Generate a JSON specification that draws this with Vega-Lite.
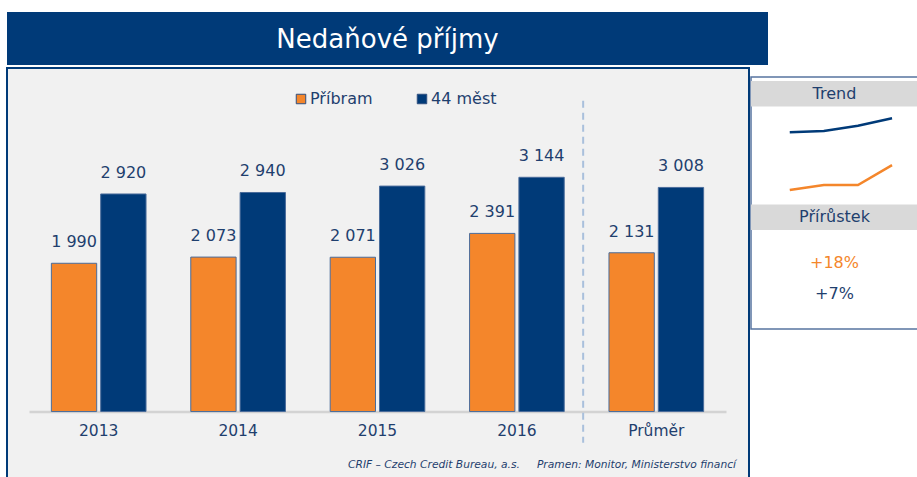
{
  "$schema": "https://vega.github.io/schema/vega-lite/v6.json",
  "background": "white",
  "padding": {"left": 6, "top": 12, "right": 0, "bottom": 0},
  "config": {
    "locale": {"number": {"decimal": ",", "thousands": " ", "grouping": [3], "currency": ["", " Kč"]}},
    "view": {"stroke": null},
    "font": "DejaVu Sans"
  },
  "datasets": {
    "income": [
      {"period": "2013", "series": "Příbram", "value": 1990},
      {"period": "2013", "series": "44 měst", "value": 2920},
      {"period": "2014", "series": "Příbram", "value": 2073},
      {"period": "2014", "series": "44 měst", "value": 2940},
      {"period": "2015", "series": "Příbram", "value": 2071},
      {"period": "2015", "series": "44 měst", "value": 3026},
      {"period": "2016", "series": "Příbram", "value": 2391},
      {"period": "2016", "series": "44 měst", "value": 3144},
      {"period": "Průměr", "series": "Příbram", "value": 2131},
      {"period": "Průměr", "series": "44 měst", "value": 3008}
    ],
    "growth": [
      {"series": "Příbram", "growth": 0.18},
      {"series": "44 měst", "growth": 0.07}
    ],
    "sections": [
      {"section": "Trend"},
      {"section": "Přírůstek"}
    ],
    "heading": [
      {"title": "Nedaňové příjmy"}
    ]
  },
  "spacing": 0,
  "vconcat": [
    {
      "width": 761,
      "height": 53,
      "view": {"fill": "#003A78", "stroke": null},
      "data": {"name": "heading"},
      "mark": {"type": "text", "fontSize": 26, "color": "white", "font": "DejaVu Sans", "dy": 1},
      "encoding": {"text": {"field": "title"}}
    },
    {
      "spacing": 0,
      "hconcat": [
        {
          "width": 742,
          "height": 412,
          "view": {"fill": "#F1F1F1", "stroke": "#003A78", "strokeWidth": 2},
          "title": {
            "text": "CRIF – Czech Credit Bureau, a.s.\u00a0\u00a0\u00a0\u00a0\u00a0Pramen: Monitor, Ministerstvo financí",
            "orient": "bottom",
            "anchor": "end",
            "frame": "group",
            "offset": -20,
            "dx": -13,
            "font": "DejaVu Sans",
            "fontStyle": "italic",
            "fontWeight": "normal",
            "fontSize": 10.7,
            "color": "#1F3F6E"
          },
          "data": {"name": "income"},
          "layer": [
            {
              "mark": {"type": "bar", "stroke": "#4A6C9B", "strokeWidth": 1},
              "encoding": {
                "x": {
                  "field": "period", "type": "nominal", "sort": null,
                  "scale": {"range": [22, 719], "paddingInner": 0.321, "paddingOuter": 0.1605},
                  "axis": {
                    "title": null, "orient": "bottom", "offset": -68.5, "ticks": false,
                    "domainColor": "#D3D3D3", "domainWidth": 2.5,
                    "labelFontSize": 15.5, "labelColor": "#1F3F6E", "labelPadding": 12,
                    "labelFont": "DejaVu Sans", "labelAngle": 0, "grid": false
                  }
                },
                "xOffset": {"field": "series", "type": "nominal", "sort": ["Příbram", "44 měst"], "scale": {"paddingInner": 0.081, "paddingOuter": 0}},
                "y": {"field": "value", "type": "quantitative", "scale": {"domain": [-919, 4611], "nice": false, "zero": false}, "axis": null},
                "color": {
                  "field": "series", "type": "nominal",
                  "scale": {"domain": ["Příbram", "44 měst"], "range": ["#F4862B", "#003A78"]},
                  "legend": {
                    "orient": "none", "legendX": 286, "legendY": 79, "direction": "horizontal",
                    "title": null, "symbolType": "square", "symbolSize": 90,
                    "symbolStrokeColor": "#2F4F7F", "symbolStrokeWidth": 1,
                    "labelFontSize": 16, "labelColor": "#1F3F6E", "labelFont": "DejaVu Sans",
                    "labelOffset": 1, "columnPadding": 41, "padding": 0
                  }
                }
              }
            },
            {
              "mark": {"type": "text", "dy": -21, "fontSize": 16, "color": "#1F3F6E", "font": "DejaVu Sans"},
              "encoding": {
                "x": {"field": "period", "type": "nominal", "sort": null},
                "xOffset": {"field": "series", "type": "nominal", "sort": ["Příbram", "44 měst"]},
                "y": {"field": "value", "type": "quantitative"},
                "text": {"field": "value", "type": "quantitative", "format": ",d"}
              }
            },
            {
              "data": {"values": [{}]},
              "mark": {"type": "rule", "strokeDash": [7, 5], "color": "#A9C0DC", "strokeWidth": 2},
              "encoding": {
                "x": {"datum": "2016", "type": "nominal", "bandPosition": 1.2},
                "y": {"datum": 4170, "type": "quantitative"},
                "y2": {"datum": -420}
              }
            }
          ]
        },
        {
          "spacing": 0,
          "vconcat": [
            {
              "width": 167,
              "height": 6,
              "data": {"values": [{}]},
              "mark": {"type": "text", "text": ""}
            },
            {
              "width": 167,
              "height": 252,
              "view": {"fill": "white", "stroke": "#5774A0", "strokeWidth": 1.5},
              "layer": [
                {
                  "data": {"name": "sections"},
                  "mark": {"type": "bar", "color": "#D9D9D9"},
                  "encoding": {
                    "y": {"field": "section", "type": "nominal", "sort": null, "axis": null,
                          "scale": {"type": "band", "domain": ["Trend", "Přírůstek"], "range": [4, 153], "paddingInner": 0.7935, "paddingOuter": 0}}
                  }
                },
                {
                  "data": {"name": "sections"},
                  "mark": {"type": "text", "fontSize": 16, "color": "#1F3F6E", "font": "DejaVu Sans"},
                  "encoding": {
                    "y": {"field": "section", "type": "nominal", "sort": null, "axis": null, "bandPosition": 0.5,
                          "scale": {"type": "band", "domain": ["Trend", "Přírůstek"], "range": [4, 153], "paddingInner": 0.7935, "paddingOuter": 0}},
                    "text": {"field": "section"}
                  }
                },
                {
                  "data": {"name": "income"},
                  "transform": [{"filter": "datum.period !== 'Průměr'"}],
                  "mark": {"type": "line", "strokeWidth": 2.5},
                  "encoding": {
                    "x": {"field": "period", "type": "ordinal", "axis": null, "scale": {"type": "point", "padding": 0.949, "align": 0.599}},
                    "y": {"field": "value", "type": "quantitative", "axis": null, "scale": {"domain": [-243, 3808], "nice": false, "zero": false}},
                    "color": {"field": "series", "type": "nominal", "legend": null,
                              "scale": {"domain": ["Příbram", "44 měst"], "range": ["#F4862B", "#003A78"]}}
                  }
                },
                {
                  "data": {"name": "growth"},
                  "mark": {"type": "text", "fontSize": 16, "font": "DejaVu Sans"},
                  "encoding": {
                    "y": {"field": "series", "type": "nominal", "sort": null, "axis": null,
                          "scale": {"type": "point", "domain": ["Příbram", "44 měst"], "range": [170, 232], "padding": 0.5}},
                    "text": {"field": "growth", "type": "quantitative", "format": "+.0%"},
                    "color": {"field": "series", "type": "nominal", "legend": null,
                              "scale": {"domain": ["Příbram", "44 měst"], "range": ["#F4862B", "#1F3F6E"]}}
                  }
                }
              ],
              "resolve": {"scale": {"y": "independent", "color": "independent"}}
            }
          ]
        }
      ]
    }
  ]
}
